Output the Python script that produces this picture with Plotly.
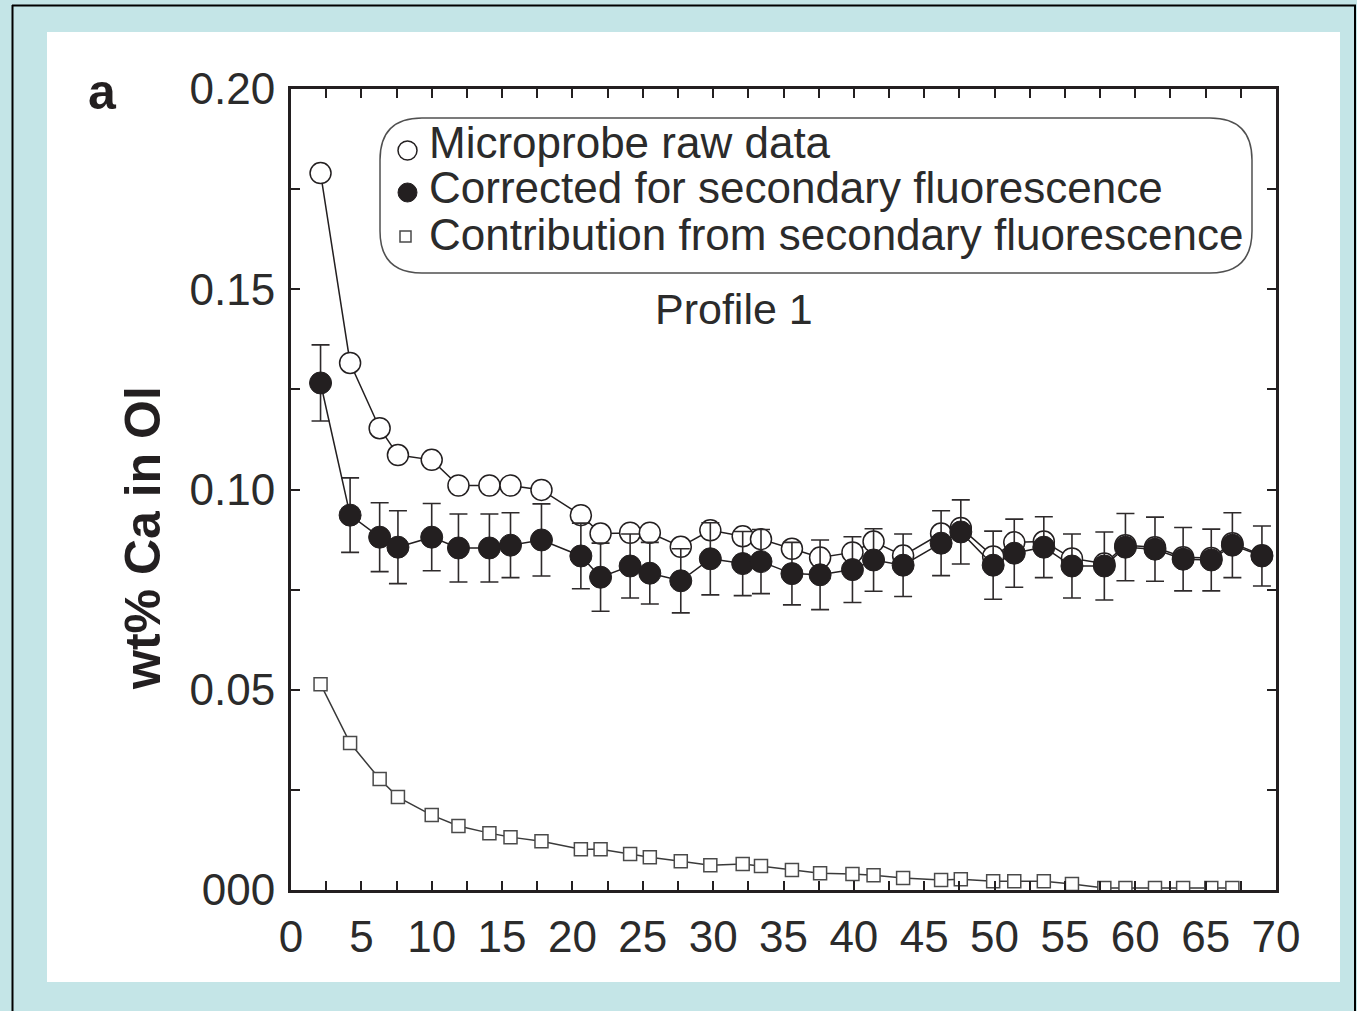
import plotly.graph_objects as go

# ---------------- data ----------------
positions = [2.1, 4.2, 6.3, 7.6, 10.0, 11.9, 14.1, 15.6, 17.8, 20.6, 22.0, 24.1,
             25.5, 27.7, 29.8, 32.1, 33.4, 35.6, 37.6, 39.9, 41.4, 43.5, 46.2,
             47.6, 49.9, 51.4, 53.5, 55.5, 57.8, 59.3, 61.4, 63.4, 65.4, 66.9, 69.0]

raw_data = [0.1790, 0.1316, 0.1153, 0.1086, 0.1074, 0.1010, 0.1010, 0.1010, 0.0999,
            0.0936, 0.0890, 0.0892, 0.0892, 0.0857, 0.0898, 0.0883, 0.0876, 0.0852,
            0.0830, 0.0843, 0.0870, 0.0835, 0.0890, 0.0904, 0.0833, 0.0868, 0.0870,
            0.0828, 0.0815, 0.0861, 0.0856, 0.0831, 0.0829, 0.0866, 0.0836]

corrected = [0.1266, 0.0936, 0.0881, 0.0856, 0.0881, 0.0854, 0.0854, 0.0861, 0.0874,
             0.0834, 0.0781, 0.0809, 0.0791, 0.0772, 0.0827, 0.0815, 0.0820, 0.0790,
             0.0787, 0.0800, 0.0824, 0.0811, 0.0866, 0.0894, 0.0811, 0.0841, 0.0856,
             0.0809, 0.0809, 0.0856, 0.0851, 0.0826, 0.0824, 0.0861, 0.0834]

corrected_err = [0.0095, 0.0093, 0.0086, 0.0091, 0.0084, 0.0085, 0.0085, 0.0081, 0.0090,
                 0.0082, 0.0085, 0.0080, 0.0077, 0.0080, 0.0090, 0.0080, 0.0080, 0.0078,
                 0.0087, 0.0082, 0.0078, 0.0078, 0.0081, 0.0080, 0.0085, 0.0085, 0.0076,
                 0.0080, 0.0085, 0.0084, 0.0080, 0.0079, 0.0077, 0.0081, 0.0075]

contribution = [0.0514, 0.0367, 0.0277, 0.0232, 0.0187, 0.0160, 0.0142, 0.0132, 0.0122,
                0.0102, 0.0102, 0.0090, 0.0082, 0.0072, 0.0062, 0.0065, 0.0060, 0.0050,
                0.0042, 0.0040, 0.0037, 0.0030, 0.0025, 0.0027, 0.0022, 0.0022, 0.0022,
                0.0015, 0.0005, 0.0005, 0.0005, 0.0005, 0.0005, 0.0005]

x_tick_vals = [0, 5, 10, 15, 20, 25, 30, 35, 40, 45, 50, 55, 60, 65, 70]
x_tick_text = [str(v) for v in x_tick_vals]
y_tick_vals = [0.0, 0.05, 0.10, 0.15, 0.20]
y_tick_text = ["000", "0.05", "0.10", "0.15", "0.20"]

series_names = ["Microprobe raw data",
                "Corrected for secondary fluorescence",
                "Contribution from secondary fluorescence"]
y_title = "wt% Ca in Ol"
panel_label = "a"
profile_label = "Profile 1"

# ---------------- layout helpers ----------------
W, H = 1357, 1011
L, R, T, B = 291, 1276, 89, 890
INK = "#231f20"
TXT = "#2b2b2b"
FONT = "Liberation Sans, Arial, Helvetica, sans-serif"


def px(x):
    return (x - L) / (R - L)


def py(y):
    return (B - y) / (B - T)


fig = go.Figure()

fig.add_trace(go.Scatter(
    x=positions[:len(contribution)], y=contribution, name=series_names[2],
    mode="lines+markers",
    line=dict(color="#3a3a3a", width=1.5),
    marker=dict(symbol="square", size=13, color="white",
                line=dict(color="#4a4a4a", width=1.5)),
    showlegend=False))

fig.add_trace(go.Scatter(
    x=positions, y=raw_data, name=series_names[0],
    mode="lines+markers",
    line=dict(color=INK, width=1.5),
    marker=dict(symbol="circle", size=21, color="white",
                line=dict(color=INK, width=1.5)),
    showlegend=False))

fig.add_trace(go.Scatter(
    x=positions, y=corrected, name=series_names[1],
    mode="lines+markers",
    line=dict(color=INK, width=1.5),
    marker=dict(symbol="circle", size=22, color=INK,
                line=dict(color=INK, width=1)),
    error_y=dict(type="data", array=corrected_err, visible=True,
                 color="#2e2a2b", thickness=1.6, width=9),
    showlegend=False))

shapes = []
# white inner panel
shapes.append(dict(type="rect", xref="paper", yref="paper",
                   x0=px(47), x1=px(1340), y0=py(982), y1=py(32),
                   fillcolor="white", line=dict(width=0), layer="below"))
# outer black border (left, top, right)
for (xa, ya, xb, yb) in [(12.5, 5, 12.5, 1011), (12, 5.5, 1356, 5.5), (1355, 5, 1355, 1011)]:
    shapes.append(dict(type="line", xref="paper", yref="paper",
                       x0=px(xa), y0=py(ya), x1=px(xb), y1=py(yb),
                       line=dict(color="black", width=2)))

# rounded legend box
bx0, bx1, by0, by1, rr = 380, 1252, 118, 273, 42


def P(x, y):
    return f"{px(x):.5f},{py(y):.5f}"


path = (f"M {P(bx0 + rr, by0)} L {P(bx1 - rr, by0)} Q {P(bx1, by0)} {P(bx1, by0 + rr)} "
        f"L {P(bx1, by1 - rr)} Q {P(bx1, by1)} {P(bx1 - rr, by1)} "
        f"L {P(bx0 + rr, by1)} Q {P(bx0, by1)} {P(bx0, by1 - rr)} "
        f"L {P(bx0, by0 + rr)} Q {P(bx0, by0)} {P(bx0 + rr, by0)} Z")
shapes.append(dict(type="path", xref="paper", yref="paper", path=path,
                   line=dict(color="#505050", width=1.5), fillcolor="white"))

# legend symbols
shapes.append(dict(type="circle", xref="paper", yref="paper",
                   x0=px(398), x1=px(417), y0=py(160), y1=py(141),
                   line=dict(color=INK, width=1.5), fillcolor="white"))
shapes.append(dict(type="circle", xref="paper", yref="paper",
                   x0=px(398), x1=px(417), y0=py(202), y1=py(183),
                   line=dict(color=INK, width=1), fillcolor=INK))
shapes.append(dict(type="rect", xref="paper", yref="paper",
                   x0=px(400), x1=px(411), y0=py(242), y1=py(231),
                   line=dict(color="#4a4a4a", width=1.5), fillcolor="white"))

annotations = []
for name, yc in zip(series_names, [142, 188, 234]):
    annotations.append(dict(text=name, xref="paper", yref="paper",
                            x=px(428), y=py(yc), xanchor="left", yanchor="middle",
                            showarrow=False, borderpad=0,
                            font=dict(size=44, color=TXT, family=FONT)))
annotations.append(dict(text=profile_label, xref="paper", yref="paper",
                        x=px(734), y=py(309), xanchor="center", yanchor="middle",
                        showarrow=False, font=dict(size=43, color=TXT, family=FONT)))
annotations.append(dict(text=f"<b>{y_title}</b>", xref="paper", yref="paper",
                        x=px(143), y=py(538), xanchor="center", yanchor="middle",
                        textangle=-90, showarrow=False,
                        font=dict(size=50, color=INK, family=FONT)))
annotations.append(dict(text=f"<b>{panel_label}</b>", xref="paper", yref="paper",
                        x=px(102), y=py(92), xanchor="center", yanchor="middle",
                        showarrow=False, font=dict(size=50, color=INK, family=FONT)))

axis_common = dict(showline=True, linewidth=3, linecolor=INK, mirror="ticks",
                   ticks="inside", ticklen=9, tickwidth=2, tickcolor=INK,
                   showgrid=False, zeroline=False,
                   tickfont=dict(size=44, color=TXT, family=FONT))

fig.update_layout(
    width=W, height=H, autosize=False,
    margin=dict(l=L, r=W - R, t=T, b=H - B, pad=0),
    paper_bgcolor="#c4e5e7", plot_bgcolor="white",
    font=dict(family=FONT, color=INK),
    xaxis=dict(range=[0, 70], tickmode="array", tickvals=x_tick_vals, ticktext=x_tick_text,
               minor=dict(tickmode="linear", tick0=0, dtick=2.5, ticks="inside",
                          ticklen=9, tickwidth=2, tickcolor=INK, showgrid=False),
               ticklabelstandoff=6, **axis_common),
    yaxis=dict(range=[0, 0.2], tickmode="array", tickvals=y_tick_vals, ticktext=y_tick_text,
               minor=dict(tickmode="linear", tick0=0, dtick=0.025, ticks="inside",
                          ticklen=9, tickwidth=2, tickcolor=INK, showgrid=False),
               ticklabelstandoff=4, **axis_common),
    shapes=shapes, annotations=annotations, showlegend=False,
)

fig.write_html("out.html", config={"displayModeBar": False},
               post_script="document.body.style.margin='0';document.body.style.overflow='hidden';")
